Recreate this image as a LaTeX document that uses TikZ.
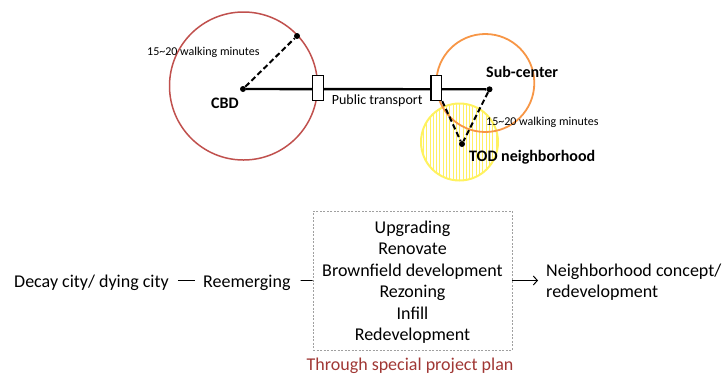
\documentclass[tikz,border=0pt]{standalone}
\usepackage{fontspec}
\usetikzlibrary{arrows.meta}
\setmainfont{Carlito}
\definecolor{cbdred}{HTML}{C0504D}
\definecolor{suborange}{HTML}{F79646}
\definecolor{todyellow}{RGB}{255,242,95}
\definecolor{hatchyellow}{RGB}{255,240,100}
\definecolor{planred}{RGB}{160,55,52}
\definecolor{boxgray}{RGB}{160,160,160}
\begin{document}
\begin{tikzpicture}[x=1bp,y=-1bp,
  big/.style={font=\fontsize{18bp}{21.5bp}\selectfont, inner sep=0pt},
  lbl/.style={font=\bfseries\fontsize{16bp}{19bp}\selectfont, inner sep=0pt, anchor=base west},
  small/.style={font=\fontsize{12bp}{14bp}\selectfont, inner sep=0pt, anchor=base west},
  dot/.style={circle, fill=black, inner sep=0pt, minimum size=6bp},
  zone/.style={circle, inner sep=0pt},
  stopbox/.style={draw, fill=white, line width=1.3bp, minimum width=10.6bp, minimum height=25bp, inner sep=0pt},
  route/.style={line width=2.4bp},
  walk/.style={line width=2bp, dash pattern=on 5.5bp off 3bp},
  link/.style={line width=0.8bp},
]
\useasboundingbox (0,0) rectangle (722,374);

% ---- walking catchments ----
% TOD neighbourhood: hatched yellow disc
\begin{scope}
  \clip (459.5,142) circle (38bp);
  \foreach \x in {420,423.3,...,500}
    \draw[hatchyellow, line width=0.8bp] (\x,100) -- (\x,185);
\end{scope}
\node[zone, draw=todyellow, line width=2bp, minimum size=77bp] (todzone) at (459.5,142) {};
% sub-centre catchment
\node[zone, draw=suborange, line width=1.8bp, minimum size=98bp] (subzone) at (485.3,83) {};
% CBD catchment
\node[zone, draw=cbdred, line width=1.5bp, minimum size=148bp] (cbdzone) at (243.5,86) {};

% ---- centres ----
\node[dot] (cbd) at (243,89) {};
\node[dot] (rim) at (297,36) {};
\node[dot] (sub) at (489.5,89.3) {};
\node[dot] (tod) at (462,144) {};

% public transport line with stops
\draw[route] (cbd) -- (sub);
\node[stopbox] (stopA) at (318,88) {};
\node[stopbox] (stopB) at (436.3,88) {};

% walking links
\draw[walk] (cbd) -- (rim);
\draw[walk] (stopB.south east) -- (tod);
\draw[walk] (sub) -- (tod);

% labels
\node[lbl] (cbdlbl) at (211,108.3) {CBD};
\node[lbl] (sublbl) at (486,77.3) {Sub-center};
\node[lbl] (todlbl) at (469,161.7) {TOD neighborhood};
\node[small] (walkA) at (147,55) {15\textasciitilde20 walking minutes};
\node[small] (walkB) at (486,125.5) {15\textasciitilde20 walking minutes};
\node[inner sep=0pt, anchor=base west, font=\fontsize{14bp}{16bp}\selectfont] (ptlbl) at (331.7,104.3) {Public transport};

% ---- regeneration sequence ----
\node[big, anchor=base west] (decay) at (14,287.3) {Decay city/ dying city};
\node[big, anchor=base west] (reem) at (203,287.3) {Reemerging};
\node[draw=boxgray, line width=0.7bp, dash pattern=on 2bp off 1.5bp,
      minimum width=199bp, minimum height=139bp, inner sep=0pt] (plan) at (412.5,280.5) {};
\foreach \t [count=\i from 0] in {Upgrading,Renovate,Brownfield development,Rezoning,Infill,Redevelopment}
  \node[big, anchor=base] (step\i) at (412.5,233.3+21.5*\i) {\t};
\node[big, anchor=base west] (neighA) at (546,276.7) {Neighborhood concept/};
\node[big, anchor=base west] (neighB) at (546,297.7) {redevelopment};
\node[big, anchor=base, text=planred] (through) at (410,370.5) {Through special project plan};

\draw[link, shorten <=9bp, shorten >=8bp] ([yshift=6.8bp]decay.base east) -- ([yshift=6.8bp]reem.base west);
\draw[link, shorten <=10bp] ([yshift=6.8bp]reem.base east) -- (plan.west);
\draw[link, -{Straight Barb[length=4bp,width=9bp,line width=1bp]}, shorten >=8bp] (plan.east) -- (plan.east -| neighA.west);
\end{tikzpicture}
\end{document}
